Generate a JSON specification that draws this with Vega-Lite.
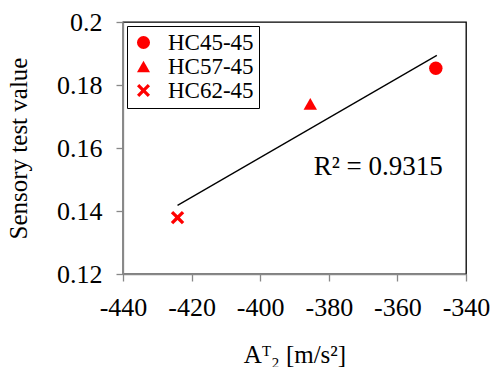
{
  "$schema": "https://vega.github.io/schema/vega-lite/v6.json",
  "width": 343,
  "height": 252,
  "autosize": {"type": "none"},
  "padding": {"left": 123, "top": 22, "right": 28, "bottom": 93},
  "background": "white",
  "config": {
    "font": "Liberation Serif",
    "view": {"stroke": "black", "strokeWidth": 1.3},
    "axis": {
      "grid": false,
      "domainColor": "#888888",
      "domainWidth": 1.3,
      "tickColor": "#888888",
      "tickWidth": 1.3,
      "tickSize": 7,
      "labelFont": "Liberation Serif",
      "labelFontSize": 26,
      "labelColor": "black",
      "titleFont": "Liberation Serif",
      "titleFontSize": 25,
      "titleFontWeight": "normal",
      "titleColor": "black"
    }
  },
  "datasets": {
    "points": [
      {"x": -348.8, "y": 0.1853, "series": "HC45-45"},
      {"x": -385.4, "y": 0.174, "series": "HC57-45"},
      {"x": -424.1, "y": 0.1379, "series": "HC62-45"}
    ],
    "trend": [
      {"x": -424.1, "y": 0.1418},
      {"x": -348.5, "y": 0.1894}
    ],
    "label": [
      {"x": -365.6, "y": 0.154, "text": "R² = 0.9315"}
    ]
  },
  "encoding": {
    "x": {
      "field": "x",
      "type": "quantitative",
      "scale": {"domain": [-440, -340], "nice": false, "zero": false},
      "axis": {
        "values": [-440, -420, -400, -380, -360, -340],
        "labelExpr": "datum.value + ''",
        "labelFont": "Liberation Serif",
        "labelFontSize": 26,
        "labelOverlap": false,
        "labelFlush": false,
        "labelPadding": 13,
        "title": "Aᵀ₂ [m/s²]",
        "titlePadding": 22
      }
    },
    "y": {
      "field": "y",
      "type": "quantitative",
      "scale": {"domain": [0.12, 0.2], "nice": false, "zero": false},
      "axis": {
        "values": [0.12, 0.14, 0.16, 0.18, 0.2],
        "labelExpr": "datum.value + ''",
        "labelFont": "Liberation Serif",
        "labelFontSize": 26,
        "labelOverlap": false,
        "labelPadding": 14,
        "title": "Sensory test value",
        "titlePadding": 25
      }
    }
  },
  "layer": [
    {
      "data": {"name": "trend"},
      "mark": {"type": "line", "color": "black", "strokeWidth": 1.3}
    },
    {
      "data": {"name": "points"},
      "mark": {"type": "point", "filled": true, "color": "red", "opacity": 1, "size": 180},
      "encoding": {
        "shape": {
          "field": "series",
          "type": "nominal",
          "scale": {
            "domain": ["HC45-45", "HC57-45", "HC62-45"],
            "range": ["circle", "triangle-up", "M-1,-0.65L-0.65,-1L0,-0.35L0.65,-1L1,-0.65L0.35,0L1,0.65L0.65,1L0,0.35L-0.65,1L-1,0.65L-0.35,0Z"]
          },
          "legend": {
            "orient": "none",
            "legendX": 4,
            "legendY": 4,
            "title": null,
            "strokeColor": "black",
            "fillColor": "white",
            "padding": 5,
            "labelFont": "Liberation Serif",
            "labelFontSize": 23,
            "labelColor": "black",
            "labelOffset": 13,
            "rowPadding": 0,
            "symbolSize": 170,
            "symbolFillColor": "red",
            "symbolStrokeColor": "red",
            "symbolStrokeWidth": 0
          }
        }
      }
    },
    {
      "data": {"name": "label"},
      "mark": {"type": "text", "font": "Liberation Serif", "fontSize": 27, "color": "black", "align": "center", "baseline": "middle"},
      "encoding": {"text": {"field": "text"}}
    }
  ]
}
